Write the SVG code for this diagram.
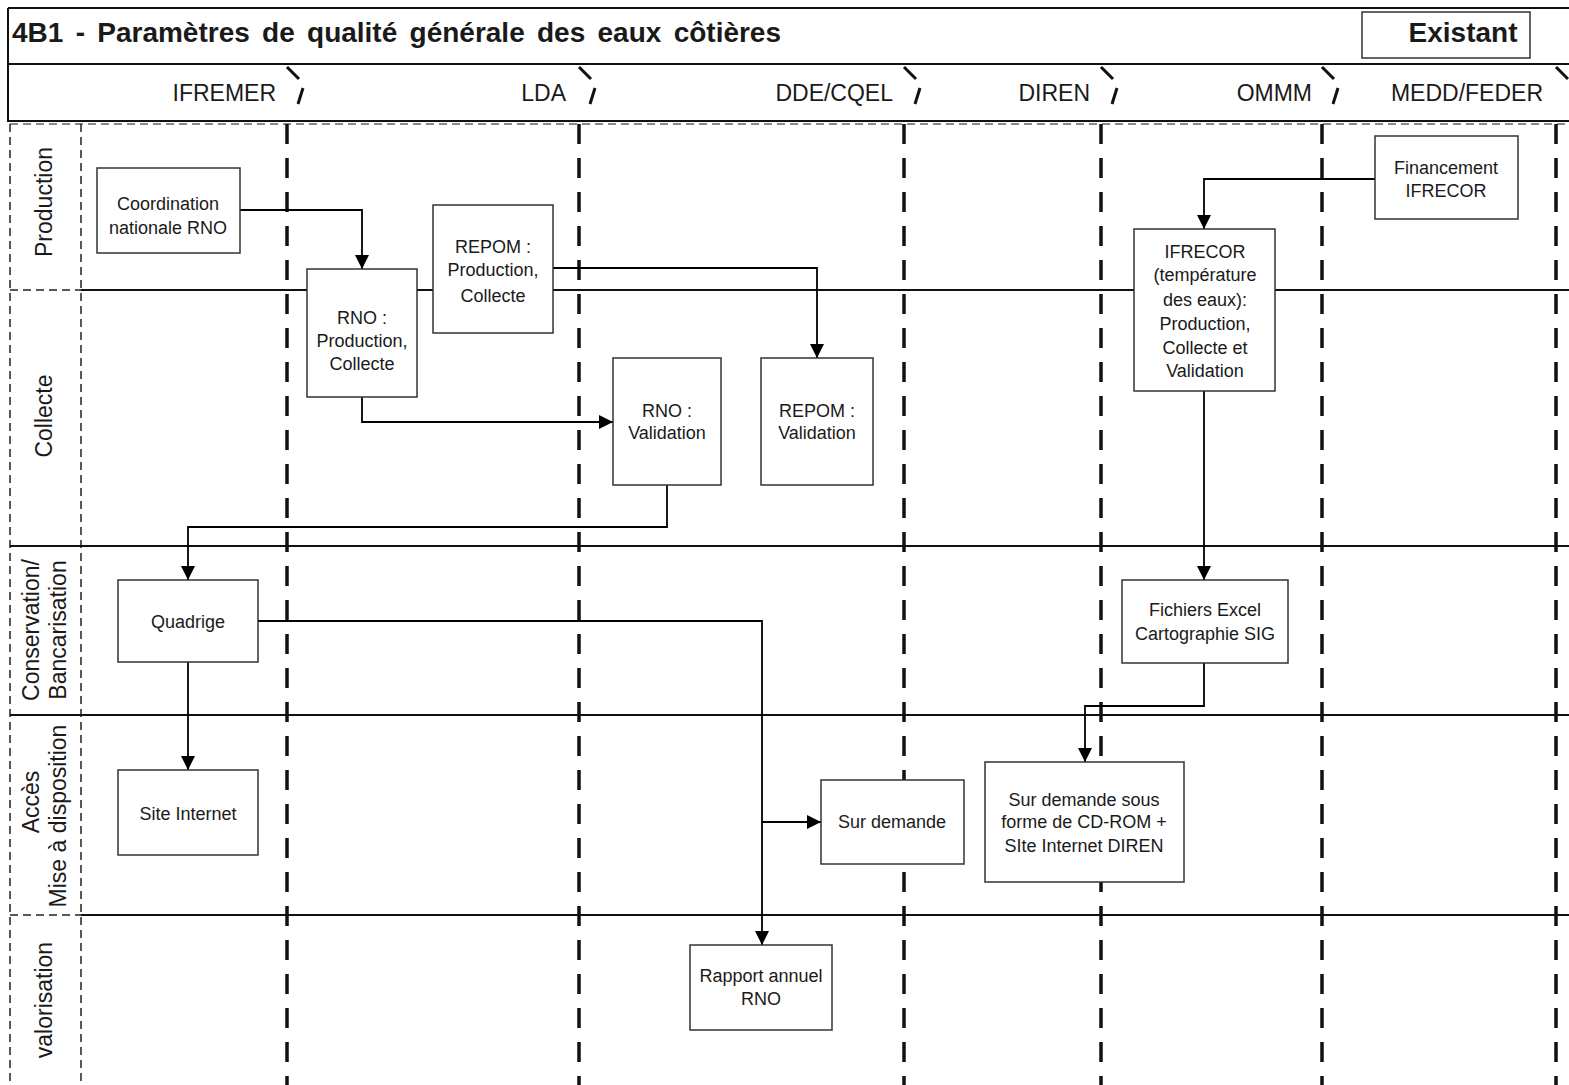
<svg xmlns="http://www.w3.org/2000/svg" width="1569" height="1085" viewBox="0 0 1569 1085">
<style>
.t{font-family:"Liberation Sans",Arial,sans-serif;fill:#1a1a1a}
.n{font-size:18px;text-anchor:middle}
.h{font-size:23px;text-anchor:end}
.l{font-size:23px;text-anchor:middle}
.box{fill:#fff;stroke:#333;stroke-width:1.5}
.col{stroke:#111;stroke-width:3.5;stroke-dasharray:20 14;fill:none}
.thin{stroke:#222;stroke-width:1.5;stroke-dasharray:8 5;fill:none}
.row{stroke:#111;stroke-width:2;fill:none}
.tab{stroke:#111;stroke-width:3;fill:none}
.c{stroke:#000;stroke-width:1.8;fill:none}
</style>
<defs>
<marker id="ah" markerUnits="userSpaceOnUse" markerWidth="14" markerHeight="14" refX="14" refY="7" orient="auto">
<path d="M0,0 L14,7 L0,14 z" fill="#000"/>
</marker>
</defs>
<rect x="0" y="0" width="1569" height="1085" fill="#fff"/>
<g id="frame">
<line class="row" x1="8" y1="8" x2="1569" y2="8"/>
<line class="row" x1="8" y1="8" x2="8" y2="122"/>
<line class="row" x1="8" y1="64" x2="1569" y2="64"/>
<line class="row" x1="8" y1="121" x2="1569" y2="121"/>
<line x1="10" y1="124" x2="1569" y2="124" stroke="#666" stroke-width="1.5" stroke-dasharray="8 5"/>
<text class="t" x="12" y="42" font-size="28" font-weight="bold" word-spacing="4.5">4B1 - Paramètres de qualité générale des eaux côtières</text>
<rect x="1362" y="12" width="168" height="46" fill="#fff" stroke="#333" stroke-width="1.5"/>
<text class="t" x="1463" y="42" font-size="28" font-weight="bold" text-anchor="middle">Existant</text>
</g>
<g id="header">
<text class="t h" x="276" y="101">IFREMER</text>
<text class="t h" x="566" y="101">LDA</text>
<text class="t h" x="893" y="101">DDE/CQEL</text>
<text class="t h" x="1090" y="101">DIREN</text>
<text class="t h" x="1312" y="101">OMMM</text>
<text class="t h" x="1543" y="101">MEDD/FEDER</text>
<g class="tab">
<path d="M287,67 L299,79 M303,88 L298,104"/>
<path d="M579,67 L591,79 M595,88 L590,104"/>
<path d="M904,67 L916,79 M920,88 L915,104"/>
<path d="M1101,67 L1113,79 M1117,88 L1112,104"/>
<path d="M1322,67 L1334,79 M1338,88 L1333,104"/>
<path d="M1556,67 L1568,79"/>
</g>
</g>
<g id="lanes">
<line class="thin" x1="10" y1="124" x2="10" y2="1085"/>
<line class="thin" x1="81" y1="124" x2="81" y2="1085"/>
<line class="thin" x1="10" y1="290" x2="81" y2="290"/>
<line class="row" x1="81" y1="290" x2="1569" y2="290"/>
<line class="row" x1="10" y1="546" x2="1569" y2="546"/>
<line class="row" x1="10" y1="715" x2="1569" y2="715"/>
<line class="thin" x1="10" y1="915" x2="81" y2="915"/>
<line class="row" x1="81" y1="915" x2="1569" y2="915"/>
<line class="col" x1="287" y1="124" x2="287" y2="1085"/>
<line class="col" x1="579" y1="124" x2="579" y2="1085"/>
<line class="col" x1="904" y1="124" x2="904" y2="1085"/>
<line class="col" x1="1101" y1="124" x2="1101" y2="1085"/>
<line class="col" x1="1322" y1="124" x2="1322" y2="1085"/>
<line class="col" x1="1556" y1="124" x2="1556" y2="1085"/>
<text class="t l" transform="translate(52,202) rotate(-90)">Production</text>
<text class="t l" transform="translate(52,416) rotate(-90)">Collecte</text>
<text class="t l" transform="translate(39,630) rotate(-90)">Conservation/</text>
<text class="t l" transform="translate(66,630) rotate(-90)">Bancarisation</text>
<text class="t l" transform="translate(39,802) rotate(-90)">Accès</text>
<text class="t l" transform="translate(66,816) rotate(-90)">Mise à disposition</text>
<text class="t l" transform="translate(52,1000) rotate(-90)">valorisation</text>
</g>
<g id="connectors">
<path class="c" d="M240,210 H362 V269" marker-end="url(#ah)"/>
<path class="c" d="M362,397 V422 H613" marker-end="url(#ah)"/>
<path class="c" d="M553,268 H817 V358" marker-end="url(#ah)"/>
<path class="c" d="M667,485 V527 H188 V580" marker-end="url(#ah)"/>
<path class="c" d="M188,662 V770" marker-end="url(#ah)"/>
<path class="c" d="M258,621 H762 V945" marker-end="url(#ah)"/>
<path class="c" d="M762,822 H821" marker-end="url(#ah)"/>
<path class="c" d="M1375,179 H1204 V229" marker-end="url(#ah)"/>
<path class="c" d="M1204,391 V580" marker-end="url(#ah)"/>
<path class="c" d="M1204,663 V706 H1085 V762" marker-end="url(#ah)"/>
</g>
<g id="n-coord"><rect class="box" x="97" y="168" width="143" height="85"/>
<text class="t n" x="168" y="210">Coordination</text><text class="t n" x="168" y="234">nationale  RNO</text></g>
<g id="n-rnoprod"><rect class="box" x="307" y="269" width="110" height="128"/>
<text class="t n" x="362" y="324">RNO :</text><text class="t n" x="362" y="347">Production,</text><text class="t n" x="362" y="370">Collecte</text></g>
<g id="n-repomprod"><rect class="box" x="433" y="205" width="120" height="128"/>
<text class="t n" x="493" y="253">REPOM :</text><text class="t n" x="493" y="276">Production,</text><text class="t n" x="493" y="302">Collecte</text></g>
<g id="n-rnoval"><rect class="box" x="613" y="358" width="108" height="127"/>
<text class="t n" x="667" y="417">RNO :</text><text class="t n" x="667" y="439">Validation</text></g>
<g id="n-repomval"><rect class="box" x="761" y="358" width="112" height="127"/>
<text class="t n" x="817" y="417">REPOM :</text><text class="t n" x="817" y="439">Validation</text></g>
<g id="n-fin"><rect class="box" x="1375" y="136" width="143" height="83"/>
<text class="t n" x="1446" y="174">Financement</text><text class="t n" x="1446" y="197">IFRECOR</text></g>
<g id="n-ifrecor"><rect class="box" x="1134" y="229" width="141" height="162"/>
<text class="t n" x="1205" y="258">IFRECOR</text><text class="t n" x="1205" y="281">(température</text><text class="t n" x="1205" y="306">des eaux):</text><text class="t n" x="1205" y="330">Production,</text><text class="t n" x="1205" y="354">Collecte  et</text><text class="t n" x="1205" y="377">Validation</text></g>
<g id="n-quadrige"><rect class="box" x="118" y="580" width="140" height="82"/>
<text class="t n" x="188" y="628">Quadrige</text></g>
<g id="n-fichiers"><rect class="box" x="1122" y="580" width="166" height="83"/>
<text class="t n" x="1205" y="616">Fichiers  Excel</text><text class="t n" x="1205" y="640">Cartographie SIG</text></g>
<g id="n-site"><rect class="box" x="118" y="770" width="140" height="85"/>
<text class="t n" x="188" y="820">Site  Internet</text></g>
<g id="n-surdemande"><rect class="box" x="821" y="780" width="143" height="84"/>
<text class="t n" x="892" y="828">Sur demande</text></g>
<g id="n-cdrom"><rect class="box" x="985" y="762" width="199" height="120"/>
<text class="t n" x="1084" y="806">Sur  demande sous</text><text class="t n" x="1084" y="828">forme de CD-ROM +</text><text class="t n" x="1084" y="852">SIte  Internet  DIREN</text></g>
<g id="n-rapport"><rect class="box" x="690" y="945" width="142" height="85"/>
<text class="t n" x="761" y="982">Rapport annuel</text><text class="t n" x="761" y="1005">RNO</text></g>
</svg>
